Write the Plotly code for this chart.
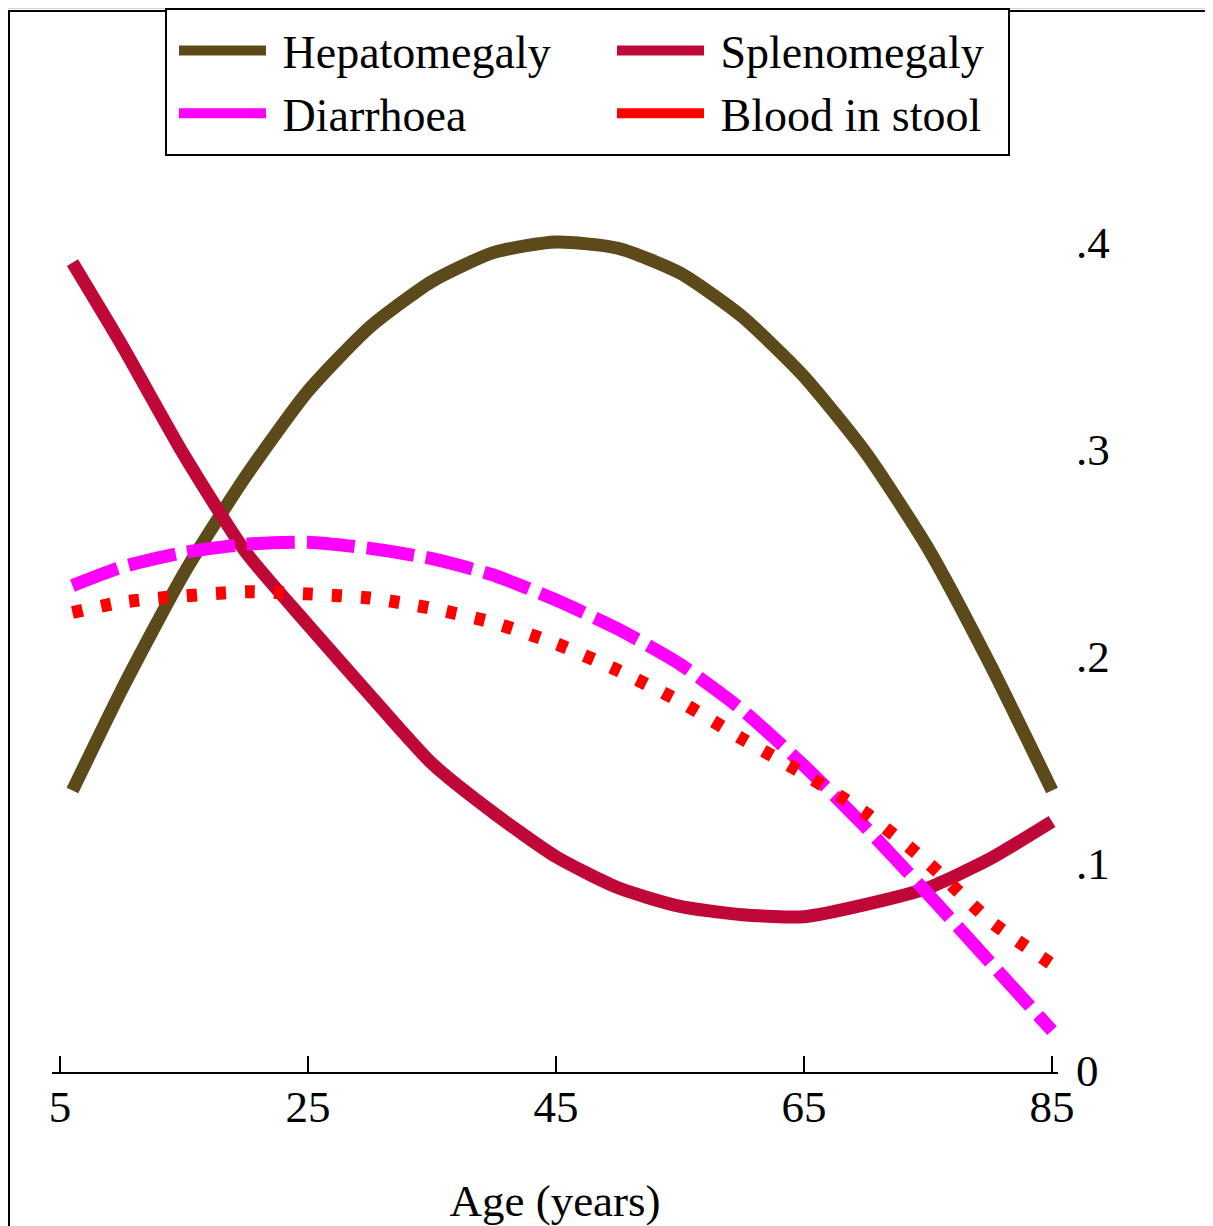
import plotly.graph_objects as go

ages = [6, 10, 15, 20, 25, 30, 35, 40, 45, 50, 55, 60, 65, 70, 75, 80, 85]
hepatomegaly = [0.135, 0.184, 0.240, 0.287, 0.328, 0.359, 0.381, 0.395, 0.400, 0.397, 0.385, 0.364, 0.335, 0.298, 0.252, 0.196, 0.135]
splenomegaly = [0.390, 0.350, 0.297, 0.250, 0.215, 0.181, 0.148, 0.124, 0.103, 0.088, 0.079, 0.075, 0.074, 0.080, 0.088, 0.102, 0.120]
diarrhoea = [0.234, 0.243, 0.250, 0.254, 0.255, 0.252, 0.247, 0.239, 0.227, 0.213, 0.196, 0.174, 0.147, 0.117, 0.085, 0.052, 0.019]
blood_in_stool = [0.221, 0.226, 0.229, 0.231, 0.230, 0.228, 0.223, 0.216, 0.206, 0.193, 0.178, 0.160, 0.143, 0.124, 0.100, 0.072, 0.051]

x_ticks = [5, 25, 45, 65, 85]
y_ticks = [0, 0.1, 0.2, 0.3, 0.4]
y_tick_labels = ["0", ".1", ".2", ".3", ".4"]

FONT = "Liberation Serif"
OFF = 8  # page body margin
W, H = 1213, 1226
# target screen pixels of plot area
SL, SR, ST, SB = 52, 1058, 200, 1072
L, T = SL - OFF, ST - OFF
R, B = W - (SR - OFF), H - (SB - OFF)
pw, ph = W - L - R, H - T - B

def px_x(p):
    return (p - OFF - L) / pw

def px_y(p):
    return (H - B - (p - OFF)) / ph

fig = go.Figure()
series = [
    ("Hepatomegaly", hepatomegaly, "#5c4a1b", "solid"),
    ("Splenomegaly", splenomegaly, "#c00838", "solid"),
    ("Diarrhoea", diarrhoea, "#ff00ff", "48px,12px"),
    ("Blood in stool", blood_in_stool, "#ff0000", "10px,19px"),
]
for name, vals, col, dash in series:
    fig.add_trace(go.Scatter(x=ages, y=vals, mode="lines", name=name, showlegend=False,
                             line=dict(color=col, width=13, dash=dash, shape="spline",
                                       smoothing=0.6)))
# legend entries with solid swatches, as in the reference key
for name, vals, col, dash in series:
    fig.add_trace(go.Scatter(x=[None], y=[None], mode="lines", name=" " + name,
                             showlegend=True, line=dict(color=col, width=15)))

fig.update_layout(
    width=W, height=H, autosize=False,
    margin=dict(l=L, r=R, t=T, b=B, autoexpand=False),
    paper_bgcolor="white", plot_bgcolor="white",
    font=dict(family=FONT, size=45, color="black"),
    showlegend=True,
    legend=dict(orientation="h", x=px_x(174), xanchor="left", y=px_y(14), yanchor="top",
                borderwidth=0, bgcolor="rgba(0,0,0,0)",
                font=dict(family=FONT, size=46, color="black"),
                itemwidth=87, entrywidth=336, tracegroupgap=0),
    xaxis=dict(range=[4.35, 85.48], tickvals=x_ticks, ticks="inside", ticklen=16,
               tickwidth=2, tickcolor="black", showline=True, linecolor="black",
               linewidth=2, showgrid=False, zeroline=False, ticklabelstandoff=-6,
               title=dict(text="Age (years)", standoff=53,
                          font=dict(family=FONT, size=45, color="black"))),
    yaxis=dict(range=[-0.001, 0.4203], side="right", tickvals=y_ticks,
               ticktext=y_tick_labels, ticks="", showline=False, showgrid=False,
               zeroline=False, ticklabelstandoff=17),
    shapes=[
        dict(type="rect", xref="paper", yref="paper", x0=px_x(9), x1=px_x(1240),
             y0=px_y(1240), y1=px_y(11), line=dict(color="black", width=2),
             fillcolor="rgba(0,0,0,0)", layer="below"),
        dict(type="line", xref="paper", yref="paper", x0=px_x(0), x1=px_x(1220),
             y0=px_y(8), y1=px_y(8), line=dict(color="#c8d6e8", width=2)),
        dict(type="rect", xref="paper", yref="paper", x0=px_x(166), x1=px_x(1009),
             y0=px_y(155), y1=px_y(9), line=dict(color="black", width=2),
             fillcolor="white", layer="above"),
    ],
)

fig.write_html("out.html")
